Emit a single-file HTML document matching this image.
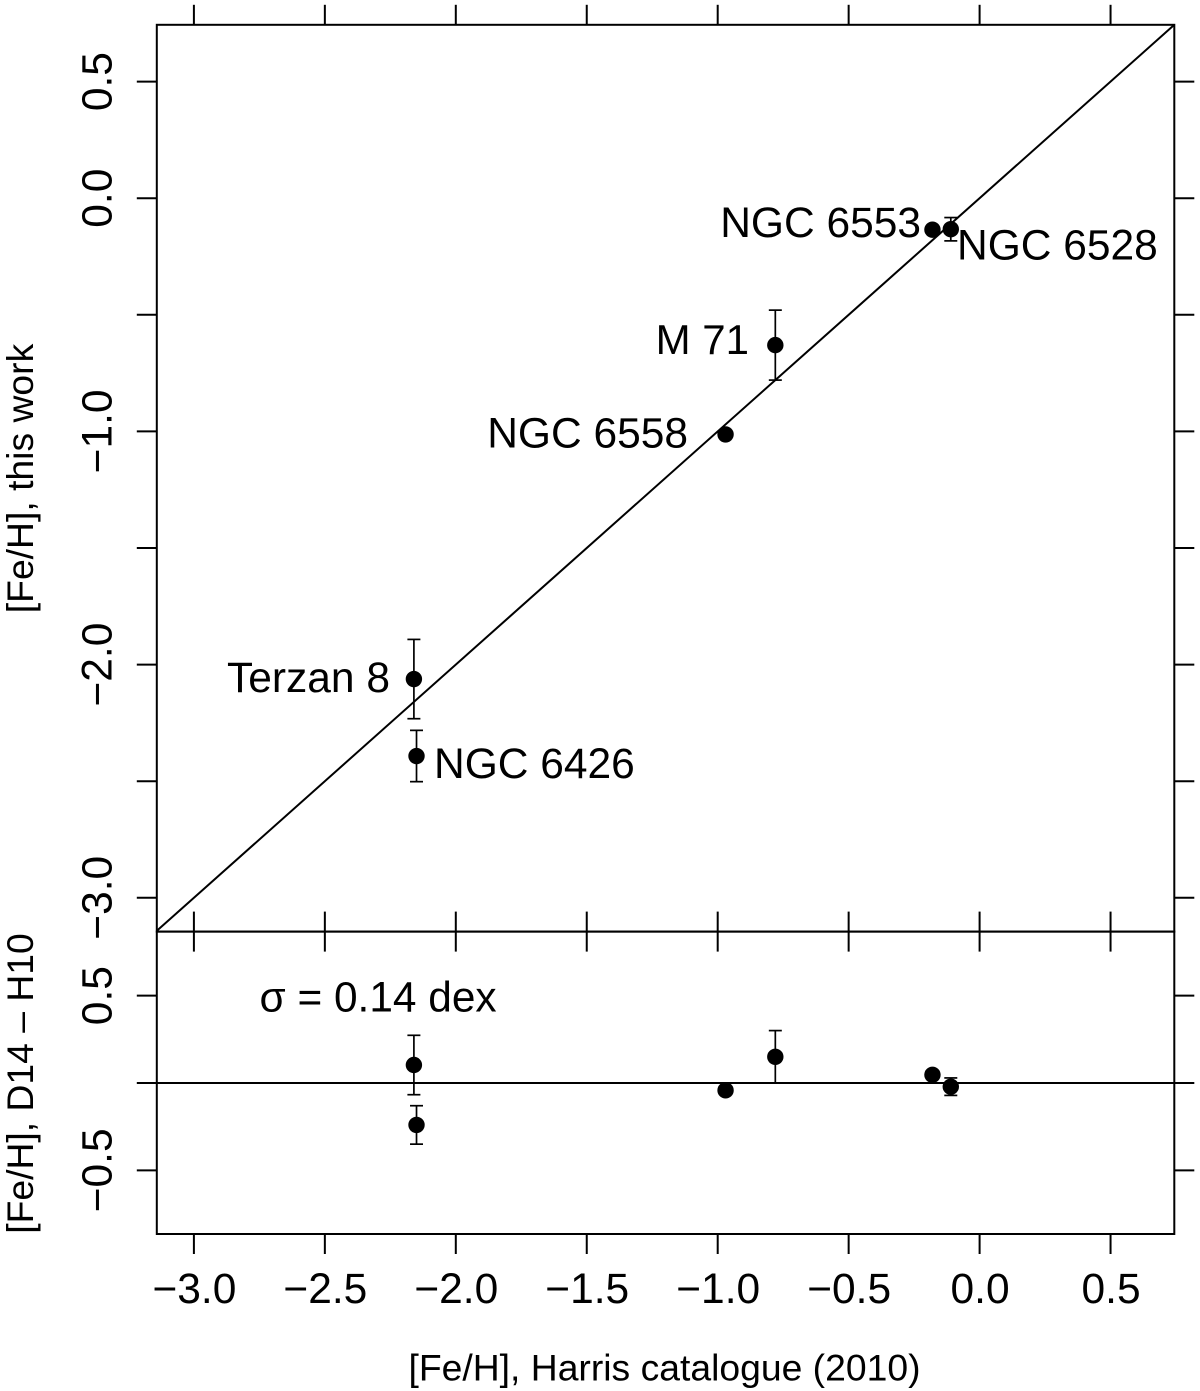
<!DOCTYPE html>
<html lang="en">
<head>
<meta charset="utf-8">
<title>[Fe/H] comparison chart</title>
<style>
  html, body { margin: 0; padding: 0; background: #fff; }
  svg { display: block; }
  text { font-family: "Liberation Sans", sans-serif; fill: #000; }
</style>
</head>
<body>
<svg id="chart" xmlns="http://www.w3.org/2000/svg" width="1200" height="1391" viewBox="0 0 1200 1391">
  <rect x="0" y="0" width="1200" height="1391" fill="#fff"/>
  <g id="marks"></g>
  <g id="axes"></g>

  <text x="921" y="237" font-size="42.5" text-anchor="end">NGC 6553</text>
  <text x="957" y="259.5" font-size="42.5">NGC 6528</text>
  <text x="749" y="354" font-size="42" text-anchor="end">M 71</text>
  <text x="688" y="447.5" font-size="42.5" text-anchor="end">NGC 6558</text>
  <text x="390" y="692" font-size="42.5" text-anchor="end">Terzan 8</text>
  <text x="434" y="778" font-size="42.5">NGC 6426</text>
  <text x="259.5" y="1011.5" font-size="42.4">σ = 0.14 dex</text>

  <text x="664.5" y="1380.5" font-size="37.3" text-anchor="middle">[Fe/H], Harris catalogue (2010)</text>
  <text x="33" y="478.5" font-size="37.3" text-anchor="middle" transform="rotate(-90 33 478.5)">[Fe/H], this work</text>
  <text x="33" y="1083.5" font-size="37.3" text-anchor="middle" transform="rotate(-90 33 1083.5)">[Fe/H], D14 – H10</text>
</svg>

<script>
// ---- Data ----
const clusters = ['NGC 6553', 'NGC 6528', 'M 71', 'NGC 6558', 'Terzan 8', 'NGC 6426'];
const harrisFe = [-0.18, -0.11, -0.78, -0.97, -2.16, -2.15];
const thisWorkFe = [-0.135, -0.133, -0.63, -1.013, -2.062, -2.392];
const feError = [0, 0.05, 0.15, 0, 0.17, 0.11];
const residualFe = [0.047, -0.021, 0.15, -0.042, 0.103, -0.24];

const xTicks = [-3.0, -2.5, -2.0, -1.5, -1.0, -0.5, 0.0, 0.5];
const xTickLabels = ['−3.0', '−2.5', '−2.0', '−1.5', '−1.0', '−0.5', '0.0', '0.5'];
const yTopTicks = [0.5, 0.0, -0.5, -1.0, -1.5, -2.0, -2.5, -3.0];
const yTopLabelValues = [0.5, 0.0, -1.0, -2.0, -3.0];
const yTopLabels = ['0.5', '0.0', '−1.0', '−2.0', '−3.0'];
const yBottomTicks = [0.5, 0.0, -0.5];
const yBottomLabelValues = [0.5, -0.5];
const yBottomLabels = ['0.5', '−0.5'];
const axisDomain = [-3.142, 0.743];

// ---- Layout and scales ----
const frameLeft = 156.8, frameRight = 1174.3, frameTop = 24.8, frameMid = 931.6, frameBottom = 1234;
const tickLen = 20;
function sx(v) { return 979.6 + 261.9 * v; }
function syTop(v) { return 198.2 - 233.2 * v; }
function syBottom(v) { return 1083 - 174.7 * v; }

const NS = 'http://www.w3.org/2000/svg';
const axes = document.getElementById('axes');
const marks = document.getElementById('marks');

function line(parent, x1, y1, x2, y2, w) {
  const el = document.createElementNS(NS, 'line');
  el.setAttribute('x1', x1);
  el.setAttribute('y1', y1);
  el.setAttribute('x2', x2);
  el.setAttribute('y2', y2);
  el.setAttribute('stroke', '#000');
  el.setAttribute('stroke-width', w);
  parent.appendChild(el);
  return el;
}

function label(parent, x, y, str, rotated) {
  const el = document.createElementNS(NS, 'text');
  el.setAttribute('x', x);
  el.setAttribute('y', y);
  el.setAttribute('font-size', '42.5');
  el.setAttribute('text-anchor', 'middle');
  if (rotated) el.setAttribute('transform', 'rotate(-90 ' + x + ' ' + y + ')');
  el.textContent = str;
  parent.appendChild(el);
  return el;
}

// ---- Frames ----
function frameRect(y0, y1) {
  const el = document.createElementNS(NS, 'rect');
  el.setAttribute('x', frameLeft);
  el.setAttribute('y', y0);
  el.setAttribute('width', frameRight - frameLeft);
  el.setAttribute('height', y1 - y0);
  el.setAttribute('fill', 'none');
  el.setAttribute('stroke', '#000');
  el.setAttribute('stroke-width', '2');
  axes.appendChild(el);
  return el;
}
const topFrame = frameRect(frameTop, frameMid);


const bottomFrame = frameRect(frameMid, frameBottom);



// ---- X ticks ----
xTicks.forEach(function (v, i) {
  const px = sx(v);
  const t1 = line(axes, px, frameTop - tickLen, px, frameTop, 2);
  
  
  const t2 = line(axes, px, frameMid - tickLen, px, frameMid + tickLen, 2);
  
  
  const t3 = line(axes, px, frameBottom, px, frameBottom + tickLen, 2);
  
  
  const tl = label(axes, px + 0.5, 1303, xTickLabels[i], false);
  
  
});

// ---- Y ticks, top panel ----
yTopTicks.forEach(function (v) {
  const py = syTop(v);
  const l = line(axes, frameLeft - tickLen, py, frameLeft, py, 2);
  
  
  const r = line(axes, frameRight, py, frameRight + tickLen, py, 2);
  
  
});
yTopLabelValues.forEach(function (v, i) {
  const tl = label(axes, 111.5, syTop(v), yTopLabels[i], true);
  
  
});

// ---- Y ticks, bottom panel ----
yBottomTicks.forEach(function (v) {
  const py = syBottom(v);
  const l = line(axes, frameLeft - tickLen, py, frameLeft, py, 2);
  
  
  const r = line(axes, frameRight, py, frameRight + tickLen, py, 2);
  
  
});
yBottomLabelValues.forEach(function (v, i) {
  const tl = label(axes, 111.5, syBottom(v), yBottomLabels[i], true);
  
  
});

// ---- Reference lines ----
const identity = line(marks, sx(axisDomain[0]), syTop(axisDomain[0]), sx(axisDomain[1]), syTop(axisDomain[1]), 2);


const zeroLine = line(marks, frameLeft, syBottom(0), frameRight, syBottom(0), 2);



// ---- Points and error bars ----
function errorBar(px, yHi, yLo) {
  const g = document.createElementNS(NS, 'g');
  line(g, px, yHi, px, yLo, 1.7);
  line(g, px - 6.5, yHi, px + 6.5, yHi, 1.7);
  line(g, px - 6.5, yLo, px + 6.5, yLo, 1.7);
  marks.appendChild(g);
  return g;
}
function dot(px, py) {
  const el = document.createElementNS(NS, 'circle');
  el.setAttribute('cx', px);
  el.setAttribute('cy', py);
  el.setAttribute('r', '8.2');
  el.setAttribute('fill', '#000');
  marks.appendChild(el);
  return el;
}

clusters.forEach(function (name, i) {
  const px = sx(harrisFe[i]);
  const err = feError[i];
  if (err > 0) {
    const e1 = errorBar(px, syTop(thisWorkFe[i] + err), syTop(thisWorkFe[i] - err));
    
    
    const e2 = errorBar(px, syBottom(residualFe[i] + err), syBottom(residualFe[i] - err));
    
    
  }
  const d1 = dot(px, syTop(thisWorkFe[i]));
  
  
  const d2 = dot(px, syBottom(residualFe[i]));
  
  
});
</script>
</body>
</html>
